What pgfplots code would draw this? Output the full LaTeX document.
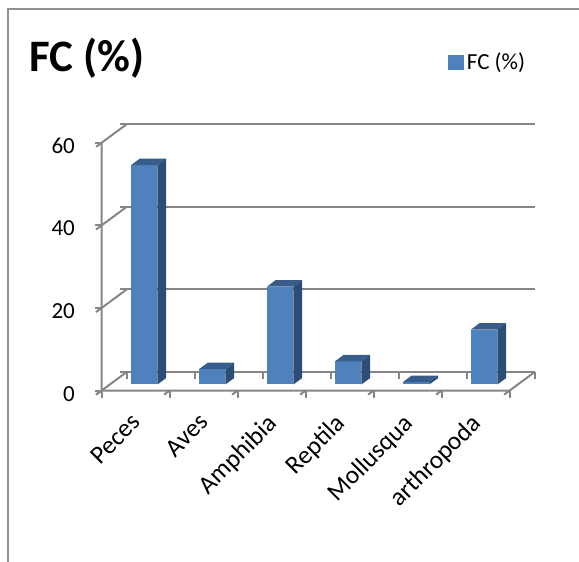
\documentclass[border=0pt]{standalone}
\usepackage{fontspec}
\setmainfont{Carlito}
\usepackage{pgfplots}
\pgfplotsset{compat=1.18}
\usepackage{pgfplotstable}

\definecolor{barfront}{RGB}{79,129,189}
\definecolor{barside}{RGB}{44,77,117}
\definecolor{bartop}{RGB}{56,93,138}
\definecolor{gridgray}{RGB}{134,134,134}
\definecolor{framegray}{RGB}{145,145,145}

\newcommand\ticksize{\fontsize{23bp}{27bp}\selectfont}
\newcommand\catsize{\fontsize{25.5bp}{30bp}\selectfont}

% FC (%) per prey group
\pgfplotstableread{
idx v
0 53.1
1 3.7
2 23.7
3 5.6
4 0.6
5 13.3
}\fcdata

\begin{document}
\begin{tikzpicture}
\begin{axis}[
  x={(68bp,0bp)}, y={(25bp,18.5bp)}, z={(0bp,4.13bp)},
  xmin=0, xmax=6, ymin=0, ymax=1, zmin=0, zmax=60,
  clip=false,
  axis line style={draw=none},
  zmajorgrids,
  major grid style={gridgray, line width=2bp},
  ztick={0,20,40,60},
  ytick=\empty,
  xtick={0.5,1.5,...,5.5},
  xticklabels={Peces,Aves,Amphibia,Reptila,Mollusqua,arthropoda},
  minor xtick={0,...,6},
  tick align=outside,
  tick pos=left,
  major tick length=7bp,
  minor tick length=7bp,
  tick style={gridgray, line width=2bp},
  major x tick style={draw=none},
  tick label style={font=\ticksize, text=black},
  /pgf/number format/assume math mode=true,
  xticklabel style={font=\catsize, xshift=0bp, yshift=-16bp, rotate=45,
    anchor=north east, inner sep=1bp},
  zticklabel style={anchor=east, inner sep=0pt, xshift=-21bp, yshift=1bp},
  barface/.style={draw=none, mark=none, forget plot},
  legend style={at={(axis cs:5.09,0,79.5)}, anchor=west, draw=none,
    fill=none, inner sep=0pt, font=\ticksize,
    nodes={inner sep=4bp}},
  legend cell align=left,
]
% each bar: front face, top face, right side face
\pgfplotsinvokeforeach{0,...,5}{
  \pgfplotstablegetelem{#1}{v}\of\fcdata
  \let\val\pgfplotsretval
  \pgfmathsetmacro\xa{#1+0.31}
  \pgfmathsetmacro\xb{#1+0.70}
  \edef\onebar{%
    \noexpand\addplot3[barface, fill=barfront] coordinates
      {(\xa,0.325,0) (\xb,0.325,0) (\xb,0.325,\val) (\xa,0.325,\val)};
    \noexpand\addplot3[barface, fill=bartop] coordinates
      {(\xa,0.325,\val) (\xb,0.325,\val) (\xb,0.675,\val) (\xa,0.675,\val)};
    \noexpand\addplot3[barface, fill=barside] coordinates
      {(\xb,0.325,0) (\xb,0.675,0) (\xb,0.675,\val) (\xb,0.325,\val)};
  }\onebar
}
\addlegendimage{legend image code/.code={\fill[barfront] (0bp,-7.2bp) rectangle (14.5bp,7.2bp);}}
\addlegendentry{FC (\%)}
% front value axis, category axis and right floor edge
\draw[gridgray, line width=2bp] (axis cs:0,0,60) -- (axis cs:0,0,0)
  -- (axis cs:6,0,0) -- (axis cs:6,1,0);
\coordinate (O) at (axis cs:0,0,0);
\end{axis}
\node[anchor=base west, inner sep=0pt, font=\fontsize{45bp}{54bp}\selectfont\bfseries]
  at ([shift={(-72.7bp,318.5bp)}]O) {FC (\%)};
\draw[framegray, line width=2bp] ([shift={(-93.7bp,-171.5bp)}]O)
  -- ([shift={(-93.7bp,381bp)}]O) -- ([shift={(477.3bp,381bp)}]O);
\pgfresetboundingbox
\path[use as bounding box] ([shift={(-101.7bp,-171.5bp)}]O)
  rectangle ([shift={(477.3bp,390.5bp)}]O);
\end{tikzpicture}
\end{document}
